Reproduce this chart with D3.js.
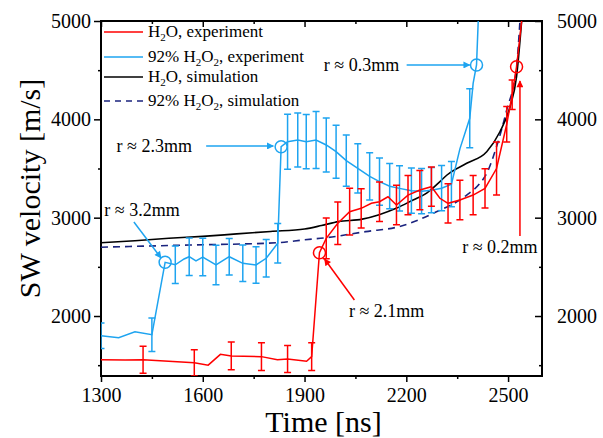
<!DOCTYPE html>
<html>
<head>
<meta charset="utf-8">
<script src="https://cdn.jsdelivr.net/npm/d3@7"></script>
<style>
body{margin:0;background:#fff;}
svg text{font-family:"Liberation Serif","Times New Roman",serif !important;fill:#000;}
</style>
</head>
<body>
<div id="canvas"></div>
<script>
//data (time in ns, velocity in m/s)
var waterT   = [1300,1371,1424,1575,1616,1652,1684,1773,1820,1850,1906,1921,1944,1964,1998,2033,2067,2097,2121,2146,2171,2205,2240,2274,2299,2323,2358,2397,2432,2466,2496,2512,2525,2540];
var waterV   = [1555,1552,1555,1524,1500,1610,1594,1587,1555,1563,1540,1587,2644,2790,2943,3061,3095,3146,3162,3213,3129,3230,3281,3315,3197,3146,3180,3230,3298,3500,3950,4250,4535,5000];
var waterErr = [0,0,138,134,0,0,141,141,0,137,0,140,0,207,217,237,200,0,200,0,200,200,200,200,0,200,200,200,200,270,180,150,0,0];

var peroxT   = [1300,1352,1400,1450,1489,1519,1545,1560,1580,1600,1639,1678,1718,1757,1787,1821,1831,1850,1880,1905,1934,1964,1993,2023,2057,2092,2121,2151,2180,2215,2245,2274,2304,2333,2358,2387,2397,2407,2412];
var peroxV   = [1800,1780,1840,1810,2546,2521,2580,2603,2560,2600,2519,2603,2536,2519,2587,2740,3722,3773,3790,3773,3790,3739,3671,3580,3502,3420,3366,3320,3298,3275,3270,3280,3300,3340,3700,4010,4366,4553,5000];
var peroxErr = [130,0,0,170,0,190,0,190,0,190,200,185,185,185,190,200,0,280,275,275,290,275,270,260,250,240,240,230,230,230,230,230,230,230,0,300,0,0,0];

var waterSimT = [1300,1400,1500,1600,1700,1800,1900,1950,2000,2070,2120,2170,2220,2260,2300,2320,2378,2437,2476,2506,2525,2540];
var waterSimV = [2745,2765,2790,2810,2835,2860,2885,2920,2960,2985,3030,3095,3180,3250,3370,3434,3553,3671,3874,4128,4434,5000];

var peroxSimT = [1300,1560,1820,1900,1960,2080,2180,2280,2378,2417,2437,2466,2496,2525,2535];
var peroxSimV = [2700,2722,2745,2775,2795,2858,2910,3045,3230,3349,3451,3722,4095,4535,5000];

var xTicks = [1300,1600,1900,2200,2500];
var xMinor = [1450,1750,2050,2350];
var yTicks = [2000,3000,4000,5000];
var yMinor = [1500,2500,3500,4500];

var legendNames = [['H','2','O, experiment'],['92% H','2','O','2',', experiment'],['H','2','O, simulation'],['92% H','2','O','2',', simulation']];
var legendColors = ['#ff0000','#1ea4f0','#000000','#1a237e'];

//annotations: label, circle point, label point, arrow from, arrow to
var notes = [
  {label:'r \u2248 3.2mm', c:[1489,2546], txt:[1421,3078], a0:[1397,2956], a1:[1477,2590], col:'#1ea4f0'},
  {label:'r \u2248 2.3mm', c:[1831,3722], txt:[1457,3729], a0:[1610,3729], a1:[1808,3729], col:'#1ea4f0'},
  {label:'r \u2248 0.3mm', c:[2407,4553], txt:[2068,4553], a0:[2201,4553], a1:[2387,4553], col:'#1ea4f0'},
  {label:'r \u2248 2.1mm', c:[1944,2644], txt:[2142,2051], a0:[2047,2163], a1:[1959,2580], col:'#ff0000'},
  {label:'r \u2248 0.2mm', c:[2525,4535], txt:[2476,2702], a0:[2535,2813], a1:[2535,4390], col:'#ff0000'}
];

var serif = '"Liberation Serif","Times New Roman",serif';
var margin = {t:21,r:61,b:62,l:101};
var width = 603 - margin.l - margin.r,
    height = 438 - margin.t - margin.b;

var svg = d3.select('#canvas')
    .append('svg')
    .attr('width',603)
    .attr('height',438)
    .style('font-family',serif);

var defs = svg.append('defs');
defs.append('clipPath').attr('id','clip')
    .append('rect').attr('width',width).attr('height',height);
['#ff0000','#1ea4f0'].forEach(function(c,i){
    defs.append('marker')
        .attr('id','arr'+i)
        .attr('viewBox','0 0 10 10')
        .attr('refX',9).attr('refY',5)
        .attr('markerWidth',9).attr('markerHeight',7)
        .attr('markerUnits','userSpaceOnUse')
        .attr('orient','auto')
        .append('path').attr('d','M0,0L10,5L0,10Z').style('fill',c);
});

var plot = svg.append('g')
    .attr('transform','translate('+margin.l+','+margin.t+')');

var x = d3.scaleLinear().domain([1300,2600]).range([0,width]);
var y = d3.scaleLinear().domain([1390,5000]).range([height,0]);

//axes
function styleAxis(g){
    g.attr('font-family',serif);
    g.select('.domain').remove();
    g.selectAll('line').style('stroke','#000').style('stroke-width','1.5px');
    g.selectAll('text').style('font-size','20px').style('font-family',serif);
}
plot.append('g').attr('transform','translate(0,'+height+')')
    .call(d3.axisBottom(x).tickValues(xTicks).tickSize(6).tickPadding(6).tickFormat(d3.format('d'))).call(styleAxis);
plot.append('g').attr('transform','translate(0,'+height+')')
    .call(d3.axisBottom(x).tickValues(xMinor).tickSize(3).tickFormat('')).call(styleAxis);
plot.append('g')
    .call(d3.axisTop(x).tickValues(xTicks).tickSize(-6).tickFormat('')).call(styleAxis);
plot.append('g')
    .call(d3.axisTop(x).tickValues(xMinor).tickSize(-3).tickFormat('')).call(styleAxis);
plot.append('g')
    .call(d3.axisLeft(y).tickValues(yTicks).tickSize(7).tickPadding(3).tickFormat(d3.format('d'))).call(styleAxis);
plot.append('g')
    .call(d3.axisLeft(y).tickValues(yMinor).tickSize(3).tickFormat('')).call(styleAxis);
plot.append('g').attr('transform','translate('+width+',0)')
    .call(d3.axisRight(y).tickValues(yTicks).tickSize(-7).tickPadding(15).tickFormat(d3.format('d'))).call(styleAxis);
plot.append('g').attr('transform','translate('+width+',0)')
    .call(d3.axisRight(y).tickValues(yMinor).tickSize(-3).tickFormat('')).call(styleAxis);

plot.append('rect')
    .attr('width',width).attr('height',height)
    .style('fill','none').style('stroke','#000').style('stroke-width','2px');

//axis titles
svg.append('text')
    .attr('x',margin.l+width/2+2).attr('y',432)
    .attr('text-anchor','middle')
    .style('font-size','30px')
    .text('Time [ns]');
svg.append('text')
    .attr('transform','translate(40,'+(margin.t+height/2-10)+') rotate(-90)')
    .attr('text-anchor','middle')
    .style('font-size','30px')
    .text('SW velocity [m/s]');

var data = plot.append('g').attr('clip-path','url(#clip)');

function pts(T,V){ return T.map(function(t,i){ return [t,V[i]]; }); }

var lineLin = d3.line().x(function(d){return x(d[0]);}).y(function(d){return y(d[1]);});
var lineSmooth = d3.line().curve(d3.curveMonotoneX).x(function(d){return x(d[0]);}).y(function(d){return y(d[1]);});

//simulations
data.append('path').attr('d',lineSmooth(pts(peroxSimT,peroxSimV)))
    .style('fill','none').style('stroke',legendColors[3]).style('stroke-width','1.6px')
    .style('stroke-dasharray','7,5');
data.append('path').attr('d',lineSmooth(pts(waterSimT,waterSimV)))
    .style('fill','none').style('stroke','#000').style('stroke-width','1.6px');

//experiments with error bars
function series(T,V,E,col){
    var g = data.append('g');
    g.append('path').attr('d',lineLin(pts(T,V)))
        .style('fill','none').style('stroke',col).style('stroke-width','1.5px');
    T.forEach(function(t,i){
        if(!E[i]) return;
        var cx = x(t), y0 = y(V[i]-E[i]), y1 = y(V[i]+E[i]);
        var p = d3.path();
        p.moveTo(cx,y0); p.lineTo(cx,y1);
        p.moveTo(cx-3.5,y0); p.lineTo(cx+3.5,y0);
        p.moveTo(cx-3.5,y1); p.lineTo(cx+3.5,y1);
        g.append('path').attr('d',p.toString())
            .style('fill','none').style('stroke',col).style('stroke-width','1.5px');
    });
}
series(peroxT,peroxV,peroxErr,legendColors[1]);
series(waterT,waterV,waterErr,legendColors[0]);

//annotations
notes.forEach(function(n){
    var mk = n.col=='#ff0000' ? 'arr0' : 'arr1';
    plot.append('circle')
        .attr('cx',x(n.c[0])).attr('cy',y(n.c[1])).attr('r',6)
        .style('fill','none').style('stroke',n.col).style('stroke-width','1.5px');
    plot.append('line')
        .attr('x1',x(n.a0[0])).attr('y1',y(n.a0[1]))
        .attr('x2',x(n.a1[0])).attr('y2',y(n.a1[1]))
        .attr('marker-end','url(#'+mk+')')
        .style('stroke',n.col).style('stroke-width','1.5px');
    plot.append('text')
        .attr('x',x(n.txt[0])).attr('y',y(n.txt[1])+6)
        .attr('text-anchor','middle')
        .style('font-size','18px')
        .text(n.label);
});

//legend
var leg = plot.append('g');
var rowY = [11,36,56,80];
legendNames.forEach(function(parts,i){
    leg.append('line')
        .attr('x1',3).attr('x2',42).attr('y1',rowY[i]).attr('y2',rowY[i])
        .style('stroke',legendColors[i]).style('stroke-width','1.6px')
        .style('stroke-dasharray',i==3?'6,5':null);
    var t = leg.append('text').attr('x',47).attr('y',rowY[i]+5).style('font-size','17px');
    parts.forEach(function(s,j){
        var sub = (s=='2');
        t.append('tspan')
            .attr('dy',sub? 4 : (j>0 ? -4 : 0))
            .style('font-size',sub?'11px':'17px')
            .text(s);
    });
});
</script>
</body>
</html>
